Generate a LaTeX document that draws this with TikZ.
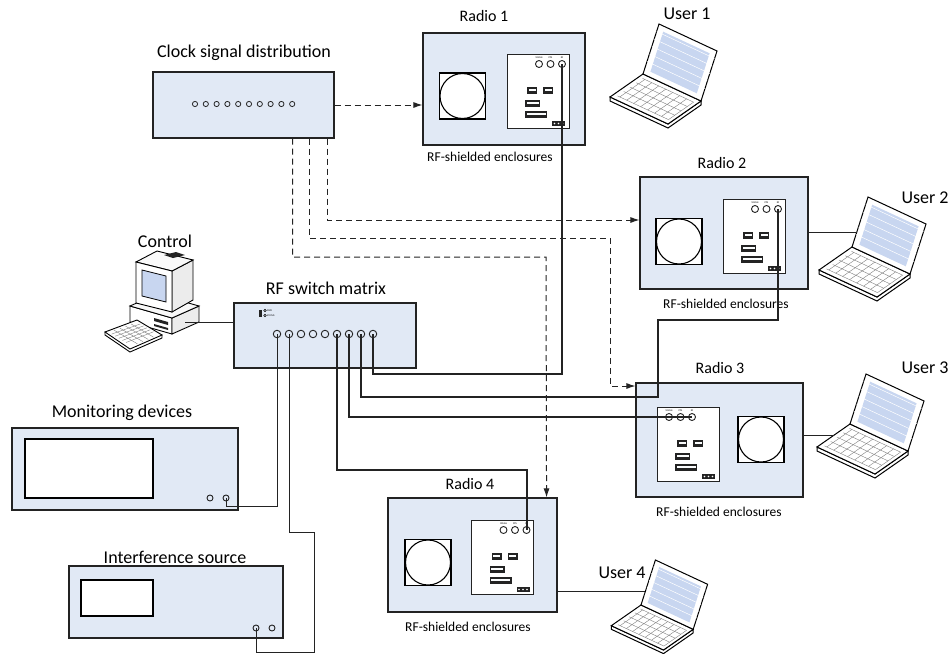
\documentclass[tikz,border=0pt]{standalone}
\usepackage{fontspec}
\setmainfont{Carlito}
\usetikzlibrary{calc, arrows.meta}

\definecolor{boxfill}{RGB}{225,233,245}
\definecolor{scrfill}{RGB}{200,214,240}
\definecolor{edge}{RGB}{35,35,35}

\tikzset{
  unit/.style={draw=edge, fill=boxfill, line width=1.1pt, inner sep=0pt},
  board/.style={draw=edge, fill=white, line width=1pt},
  title/.style={font=\fontsize{18}{20}\selectfont},
  radio/.style={font=\fontsize{16}{18}\selectfont},
  note/.style={font=\fontsize{13.5}{15}\selectfont},
  tiny/.style={font=\fontsize{2.5}{3}\selectfont, inner sep=0pt},
  port/.style={circle, draw=edge, line width=0.9pt, inner sep=0pt, minimum size=7.5pt},
  cable/.style={line width=2pt, draw=edge},
  wire/.style={line width=1pt, draw=edge},
  clk/.style={line width=1pt, draw=edge, dash pattern=on 6pt off 4pt,
    -{Latex[length=9pt,width=6pt]}},
  % loudspeaker window of an enclosure
  pics/speaker/.style={code={
    \draw[line width=1.1pt, fill=white] (-23,-23) rectangle (23,23);
    \draw[line width=1.1pt] (0,0) circle [radius=22.5];
  }},
  % radio board, #1 = x of the RF port
  pics/rboard/.style={code={
    \draw[board] (-31,-37) rectangle (31,37);
    \node[port, minimum size=7pt] (-ref) at (#1-23,-27) {};
    \node[port, minimum size=7pt] (-pps) at (#1-11.5,-27) {};
    \node[port, minimum size=7pt] (-rf) at (#1,-27) {};
    \node[tiny] at (#1-23,-33.5) {10MHz};
    \node[tiny] at (#1-11.5,-33.5) {PPS};
    \node[tiny] at (#1,-33.5) {RF};
    \foreach \cx/\cy/\w in {-6/-1/10, 10/-1/10, -5.5/12/15, -2/23/22} {
      \fill[edge] (\cx-\w/2,\cy-3.5) rectangle (\cx+\w/2,\cy+3.5);
      \fill[white!85!boxfill] (\cx-\w/2+1.5,\cy-1) rectangle (\cx+\w/2-1.5,\cy+1);
    }
    \fill[edge] (14,30) rectangle (27,35);
    \foreach \i in {0,1,2}
      \fill[white] (16.5+4*\i,32.5) circle [radius=0.8];
  }},
  pics/rboard/.default=24,
  % laptop, origin at the back left corner of the keyboard
  pics/laptop/.style={code={
    % keyboard
    \draw[line width=1pt, fill=white] (-33,23) -- (-33,27) -- (25,54) -- (58,31) -- (58,27) -- (25,50) -- cycle;
    \draw[line width=1pt, fill=white] (0,0) -- (58,27) -- (25,50) -- (-33,23) -- cycle;
    \foreach \u in {0.1,0.22,...,0.95}
      \draw[gray, line width=0.4pt] ({58*\u-33*0.12},{27*\u+23*0.12}) -- ({58*\u-33*0.88},{27*\u+23*0.88});
    \foreach \v in {0.12,0.31,...,0.9}
      \draw[gray, line width=0.4pt] ({58*0.06-33*\v},{27*0.06+23*\v}) -- ({58*0.94-33*\v},{27*0.94+23*\v});
    % screen
    \draw[line width=1pt, fill=white] (0,0) -- (58,27) -- (74,-23) -- (16,-50) -- cycle;
    \fill[scrfill] ($(0,0)!.1!(74,-23)$) -- ($(58,27)!.1!(16,-50)$)
      -- ($(74,-23)!.1!(0,0)$) -- ($(16,-50)!.1!(58,27)$) -- cycle;
    \foreach \t in {0.25,0.4,...,0.9}
      \draw[white, line width=0.5pt] ($(0,0)!\t!(16,-50)$) -- ($(58,27)!\t!(74,-23)$);
    \coordinate (-port) at (4.8,-15);
    \coordinate (-kb) at (-16.5,11.5);
  }},
  % desktop computer with keyboard
  pics/desktop/.style={code={
    \draw[line width=0.9pt, fill=white] (30,76) -- (72,88) -- (72,104) -- (30,92) -- cycle;
    \draw[line width=0.9pt, fill=gray!15] (72,88) -- (99,76) -- (99,92) -- (72,104) -- cycle;
    \draw[line width=0.9pt, fill=gray!5] (30,76) -- (57,64) -- (99,76) -- (72,88) -- cycle;
    \fill[edge] (54,88) -- (68,92) -- (68,95) -- (54,91) -- cycle;
    \fill[edge] (54,94) -- (68,98) -- (68,100) -- (54,96) -- cycle;
    \draw[line width=0.9pt, fill=gray!15] (72,41) -- (93,30) -- (93,70) -- (72,82) -- cycle;
    \draw[line width=0.9pt, fill=gray!5] (36,32) -- (57,21) -- (93,30) -- (72,41) -- cycle;
    \fill[edge] (64,25) -- (76,22) -- (85,25) -- (73,28) -- cycle;
    \draw[line width=0.9pt, fill=white] (36,32) -- (72,41) -- (72,82) -- (36,73) -- cycle;
    \draw[line width=0.8pt, fill=scrfill] (42,40) -- (66,46) -- (66,72) -- (42,66) -- cycle;
    \draw[line width=0.9pt, fill=white] (5,102) -- (5,105) -- (30,122) -- (62,108) -- (62,105) -- cycle;
    \draw[line width=0.9pt, fill=white] (5,102) -- (37,90) -- (62,105) -- (30,119) -- cycle;
    \foreach \u in {0.15,0.3,...,0.9}
      \draw[gray, line width=0.4pt] ($(8,102)!\u!(32,116)$) -- ($(37,92)!\u!(59,105)$);
    \foreach \v in {0.2,0.4,...,0.9}
      \draw[gray, line width=0.4pt] ($(8,102)!\v!(37,92)$) -- ($(32,116)!\v!(59,105)$);
    \coordinate (-port) at (85,92);
  }},
}

\begin{document}
\begin{tikzpicture}[x=1pt, y=-1pt]
\useasboundingbox (0,0) rectangle (949,653);

% clock distribution unit
\node[unit, minimum width=181pt, minimum height=66pt] (clk) at (243.5,105) {};
\foreach \i in {0,...,9}
  \draw[edge, line width=0.8pt] (195+10.8*\i,104) circle [radius=2.6];
\node[title] at (244,53) {Clock signal distribution};

% rf switch matrix
\node[unit, minimum width=182pt, minimum height=65pt] (sw) at (325,335.5) {};
\foreach \i in {1,...,9}
  \node[port] (sw\i) at (265+12*\i,334) {};
\fill[edge] (259,310) rectangle (262,317);
\draw[line width=0.5pt] (265,310.5) circle [radius=1.3];
\draw[line width=0.5pt] (265,315.5) circle [radius=1.3];
\node[tiny, anchor=west] at (267,310.5) {PWR};
\node[tiny, anchor=west] at (267,315.5) {STATUS};
\node[title] at (326,288) {RF switch matrix};

% control pc
\pic (pc) at (100,230) {desktop};
\node[title] at (165,241) {Control};

% monitoring devices
\node[unit, minimum width=226pt, minimum height=82pt] (mon) at (125,469) {};
\draw[line width=1.1pt, fill=white] (25,439) rectangle (153,498);
\node[port, minimum size=6pt] (mon1) at (210,498) {};
\node[port, minimum size=6pt] (mon2) at (226,498) {};
\node[title] at (122,413) {Monitoring devices};

% interference source
\node[unit, minimum width=214pt, minimum height=72pt] (intf) at (176,602) {};
\draw[line width=1.1pt, fill=white] (81,580) rectangle (153,616);
\node[port, minimum size=6pt] (int1) at (256,628) {};
\node[port, minimum size=6pt] (int2) at (272,628) {};
\node[title] at (175,557) {Interference source};

% rf-shielded enclosures
\node[unit, minimum width=162pt, minimum height=112pt] (r1) at (504,89) {};
\pic at (462.5,96) {speaker};
\pic (r1b) at (538,91) {rboard};
\node[radio] at (484,16) {Radio 1};
\node[note] at (490,157) {RF-shielded enclosures};

\node[unit, minimum width=168pt, minimum height=112pt] (r2) at (724,233) {};
\pic at (679,241.5) {speaker};
\pic (r2b) at (754,236) {rboard};
\node[radio] at (722,163) {Radio 2};
\node[note] at (726,304) {RF-shielded enclosures};

\node[unit, minimum width=167pt, minimum height=114pt] (r3) at (719.5,440) {};
\pic at (761,439.5) {speaker};
\pic (r3b) at (688,444) {rboard=4};
\node[radio] at (720,368) {Radio 3};
\node[note] at (719,512) {RF-shielded enclosures};

\node[unit, minimum width=169pt, minimum height=114pt] (r4) at (472.5,555) {};
\pic at (428,562.5) {speaker};
\pic (r4b) at (502.5,557) {rboard};
\node[radio] at (470,484) {Radio 4};
\node[note] at (468,627) {RF-shielded enclosures};

% users
\pic (u1) at (643,74) {laptop};
\node[title] at (687,14) {User 1};
\pic (u2) at (852,247) {laptop};
\node[title] at (925,198) {User 2};
\pic (u3) at (850,424) {laptop};
\node[title] at (925,368) {User 3};
\pic[scale=0.9] (u4) at (641,605) {laptop};
\node[title] at (622,573) {User 4};

% clock lines
\draw[clk] (clk.east) -- (clk.east -| r1.west);
\draw[clk] ($(clk.south east)+(-7,0)$) |- ($(r2.west)+(0,-13)$);
\draw[clk] ($(clk.south east)+(-25,0)$) |- (610,238) |- ($(r3.west)+(0,-54)$);
\draw[clk] ($(clk.south east)+(-42,0)$) |- (546,257) -- ($(r4.north east)+(-11,0)$);

% rf cables
\draw[cable] (sw9.center) |- (r1b-rf |- 0,374) -- (r1b-rf.center);
\draw[cable] (sw8.center) |- (658,397) |- (r2b-rf |- 0,320) -- (r2b-rf.center);
\draw[cable] (sw7.center) |- (r3b-rf.center);
\draw[cable] (sw6.center) |- (r4b-rf |- 0,470) -- (r4b-rf.center);
\draw[wire] (sw1.center) |- ($(mon2)+(0,8)$) -- (mon2.center);
\draw[wire] (sw2.center) |- (314,532) |- ($(int1)+(0,24)$) -- (int1.center);

% control and user links
\draw[wire] (pc-port) -- (pc-port -| sw.west);
\draw[wire] (r2.east |- u2-port) -- (u2-port);
\draw[wire] (r3.east |- u3-kb) -- (u3-kb);
\draw[wire] (r4.east |- u4-port) -- (u4-port);
\end{tikzpicture}
\end{document}
